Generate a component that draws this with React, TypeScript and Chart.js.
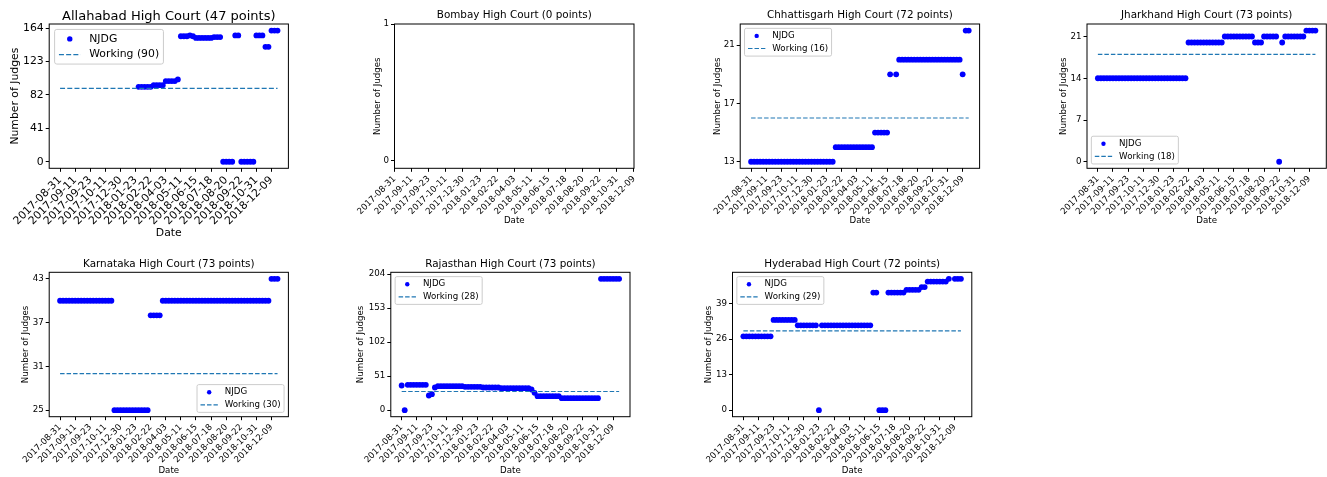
import React, { useEffect, useRef } from "react";
import { Chart, registerables } from "chart.js";

Chart.register(...registerables);

const FIG_W = 1327;
const FIG_H = 477;
const FONT = '"DejaVu Sans", "Liberation Sans", sans-serif';

// ---------------- data ----------------
const dateTickLabels = [
  "2017-08-31", "2017-09-11", "2017-09-23", "2017-10-11", "2017-12-30",
  "2018-01-23", "2018-02-22", "2018-04-03", "2018-05-11", "2018-06-15",
  "2018-07-18", "2018-08-20", "2018-09-22", "2018-10-31", "2018-12-09",
];
const dateTickPositions = [0, 5, 10, 15, 20, 25, 30, 35, 40, 45, 50, 55, 60, 65, 70];
const lastDateIndex = 72;

const allahabadJudges: (number | null)[] = [
  null, null, null, null, null, null, null, null, null, null,
  null, null, null, null, null, null, null, null, null, null,
  null, null, null, null, null, null, 92, 92, 92, 92,
  92, 94, 94, 94, 94, 99, 99, 99, 99, 101,
  154, 154, 154, 155, 154, 152, 152, 152, 152, 152,
  152, 153, 153, 153, 0, 0, 0, 0, 155, 155,
  0, 0, 0, 0, 0, 155, 155, 155, 141, 141,
  161, 161, 161,
];
const bombayJudges: (number | null)[] = [];
const chhattisgarhJudges: (number | null)[] = [
  13, 13, 13, 13, 13, 13, 13, 13, 13, 13,
  13, 13, 13, 13, 13, 13, 13, 13, 13, 13,
  13, 13, 13, 13, 13, 13, 13, 13, 14, 14,
  14, 14, 14, 14, 14, 14, 14, 14, 14, 14,
  14, 15, 15, 15, 15, 15, 19, null, 19, 20,
  20, 20, 20, 20, 20, 20, 20, 20, 20, 20,
  20, 20, 20, 20, 20, 20, 20, 20, 20, 20,
  19, 22, 22,
];
const jharkhandJudges: (number | null)[] = [
  14, 14, 14, 14, 14, 14, 14, 14, 14, 14,
  14, 14, 14, 14, 14, 14, 14, 14, 14, 14,
  14, 14, 14, 14, 14, 14, 14, 14, 14, 14,
  20, 20, 20, 20, 20, 20, 20, 20, 20, 20,
  20, 20, 21, 21, 21, 21, 21, 21, 21, 21,
  21, 21, 20, 20, 20, 21, 21, 21, 21, 21,
  0, 20, 21, 21, 21, 21, 21, 21, 21, 22,
  22, 22, 22,
];
const karnatakaJudges: (number | null)[] = [
  40, 40, 40, 40, 40, 40, 40, 40, 40, 40,
  40, 40, 40, 40, 40, 40, 40, 40, 25, 25,
  25, 25, 25, 25, 25, 25, 25, 25, 25, 25,
  38, 38, 38, 38, 40, 40, 40, 40, 40, 40,
  40, 40, 40, 40, 40, 40, 40, 40, 40, 40,
  40, 40, 40, 40, 40, 40, 40, 40, 40, 40,
  40, 40, 40, 40, 40, 40, 40, 40, 40, 40,
  43, 43, 43,
];
const rajasthanJudges: (number | null)[] = [
  37, 0, 38, 38, 38, 38, 38, 38, 38, 22,
  24, 34, 36, 36, 36, 36, 36, 36, 36, 36,
  36, 35, 35, 35, 35, 35, 35, 34, 34, 34,
  34, 34, 34, 33, 33, 33, 33, 33, 33, 33,
  33, 33, 33, 31, 26, 21, 21, 21, 21, 21,
  21, 21, 21, 18, 18, 18, 18, 18, 18, 18,
  18, 18, 18, 18, 18, 18, 197, 197, 197, 197,
  197, 197, 197,
];
const hyderabadJudges: (number | null)[] = [
  27, 27, 27, 27, 27, 27, 27, 27, 27, 27,
  33, 33, 33, 33, 33, 33, 33, 33, 31, 31,
  31, 31, 31, 31, 31, 0, 31, 31, 31, 31,
  31, 31, 31, 31, 31, 31, 31, 31, 31, 31,
  31, 31, 31, 43, 43, 0, 0, 0, 43, 43,
  43, 43, 43, 43, 44, 44, 44, 44, 44, 45,
  45, 47, 47, 47, 47, 47, 47, 47, 48, null,
  48, 48, 48,
];

const allahabadWorking = 90;
const chhattisgarhWorking = 16;
const jharkhandWorking = 18;
const karnatakaWorking = 30;
const rajasthanWorking = 28;
const hyderabadWorking = 29;

const allahabadYTicks = [0, 41, 82, 123, 164];
const bombayYTicks = [0, 1];
const chhattisgarhYTicks = [13, 17, 21];
const jharkhandYTicks = [0, 7, 14, 21];
const karnatakaYTicks = [25, 31, 37, 43];
const rajasthanYTicks = [0, 51, 102, 153, 204];
const hyderabadYTicks = [0, 13, 26, 39];

// ---------------- layout / style ----------------
type Panel = {
  title: string;
  values: (number | null)[];
  working: number | null;
  yTicks: number[];
  yMin: number;
  yMax: number;
  xMin: number;
  xMax: number;
  L: number; T: number; R: number; B: number;
  big: boolean;
  legend: "ul" | "ll" | "lr" | null;
  titleY: number;
  yTitleX: number;
  dateY: number;
};

const ROW1 = { T: 24, B: 168.3, titleY: 15.7, dateY: 221 };
const ROW2 = { T: 272.3, B: 416.7, titleY: 264.7, dateY: 470.3 };

const PANELS: Panel[] = [
  {
    title: "Allahabad High Court (47 points)", values: allahabadJudges, working: allahabadWorking,
    yTicks: allahabadYTicks, yMin: -8.05, yMax: 169.05, xMin: -3.6, xMax: 75.6,
    L: 49.2, T: ROW1.T, R: 288.4, B: ROW1.B, big: true, legend: "ul",
    titleY: 16.2, yTitleX: 14.8, dateY: 233.6,
  },
  {
    title: "Bombay High Court (0 points)", values: bombayJudges, working: null,
    yTicks: bombayYTicks, yMin: -0.055, yMax: 1, xMin: 0, xMax: 70.001,
    L: 394.5, T: ROW1.T, R: 634, B: ROW1.B, big: false, legend: null,
    titleY: ROW1.titleY, yTitleX: 377.6, dateY: ROW1.dateY,
  },
  {
    title: "Chhattisgarh High Court (72 points)", values: chhattisgarhJudges, working: chhattisgarhWorking,
    yTicks: chhattisgarhYTicks, yMin: 12.55, yMax: 22.45, xMin: -3.6, xMax: 75.6,
    L: 740.2, T: ROW1.T, R: 979.6, B: ROW1.B, big: false, legend: "ul",
    titleY: ROW1.titleY, yTitleX: 718, dateY: ROW1.dateY,
  },
  {
    title: "Jharkhand High Court (73 points)", values: jharkhandJudges, working: jharkhandWorking,
    yTicks: jharkhandYTicks, yMin: -1.1, yMax: 23.1, xMin: -3.6, xMax: 75.6,
    L: 1087, T: ROW1.T, R: 1326.3, B: ROW1.B, big: false, legend: "ll",
    titleY: ROW1.titleY, yTitleX: 1063.6, dateY: ROW1.dateY,
  },
  {
    title: "Karnataka High Court (73 points)", values: karnatakaJudges, working: karnatakaWorking,
    yTicks: karnatakaYTicks, yMin: 24.1, yMax: 43.9, xMin: -3.6, xMax: 75.6,
    L: 49.2, T: ROW2.T, R: 288.4, B: ROW2.B, big: false, legend: "lr",
    titleY: ROW2.titleY, yTitleX: 25.3, dateY: ROW2.dateY,
  },
  {
    title: "Rajasthan High Court (73 points)", values: rajasthanJudges, working: rajasthanWorking,
    yTicks: rajasthanYTicks, yMin: -9.85, yMax: 206.85, xMin: -3.6, xMax: 75.6,
    L: 390.8, T: ROW2.T, R: 630, B: ROW2.B, big: false, legend: "ul",
    titleY: ROW2.titleY, yTitleX: 361, dateY: ROW2.dateY,
  },
  {
    title: "Hyderabad High Court (72 points)", values: hyderabadJudges, working: hyderabadWorking,
    yTicks: hyderabadYTicks, yMin: -2.4, yMax: 50.4, xMin: -3.6, xMax: 75.6,
    L: 732.5, T: ROW2.T, R: 971.8, B: ROW2.B, big: false, legend: "ul",
    titleY: ROW2.titleY, yTitleX: 708.6, dateY: ROW2.dateY,
  },
];

const MARKER_COLOR = "#0000ff";
const WORKING_COLOR = "#1f77b4";

// spines drawn around the plot area
const framePlugin = {
  id: "mplFrame",
  afterDatasetsDraw(chart: any) {
    const { ctx, chartArea: a } = chart;
    ctx.save();
    ctx.strokeStyle = "#000";
    ctx.lineWidth = 1;
    ctx.strokeRect(a.left, a.top, a.right - a.left, a.bottom - a.top);
    ctx.restore();
  },
};

// matplotlib-like legend inside the axes
const legendPlugin = {
  id: "mplLegend",
  afterDraw(chart: any, _args: any, opts: any) {
    if (!opts || !opts.corner) return;
    const { ctx, chartArea: a } = chart;
    const f: number = opts.fontSize;
    const items = chart.data.datasets;
    if (!items.length) return;
    ctx.save();
    ctx.font = `${f}px ${FONT}`;
    let textW = 0;
    items.forEach((d: any) => { textW = Math.max(textW, ctx.measureText(d.label).width); });
    const w = 3.6 * f + textW;
    const h = 0.8 * f + items.length * 0.95 * f + (items.length - 1) * 0.5 * f;
    const pad = 0.5 * f;
    const x0 = opts.corner[1] === "l" ? a.left + pad : a.right - pad - w;
    const y0 = opts.corner[0] === "u" ? a.top + pad : a.bottom - pad - h;
    const r = 0.2 * f;
    ctx.beginPath();
    ctx.moveTo(x0 + r, y0);
    ctx.lineTo(x0 + w - r, y0);
    ctx.arcTo(x0 + w, y0, x0 + w, y0 + r, r);
    ctx.lineTo(x0 + w, y0 + h - r);
    ctx.arcTo(x0 + w, y0 + h, x0 + w - r, y0 + h, r);
    ctx.lineTo(x0 + r, y0 + h);
    ctx.arcTo(x0, y0 + h, x0, y0 + h - r, r);
    ctx.lineTo(x0, y0 + r);
    ctx.arcTo(x0, y0, x0 + r, y0, r);
    ctx.closePath();
    ctx.fillStyle = "rgba(255,255,255,0.8)";
    ctx.fill();
    ctx.strokeStyle = "#cccccc";
    ctx.lineWidth = 1;
    ctx.stroke();
    items.forEach((d: any, i: number) => {
      const cy = y0 + 0.4 * f + 0.475 * f + i * 1.45 * f;
      if (d.showLine) {
        ctx.beginPath();
        ctx.setLineDash(d.borderDash || []);
        ctx.strokeStyle = d.borderColor;
        ctx.lineWidth = d.borderWidth;
        ctx.moveTo(x0 + 0.4 * f, cy);
        ctx.lineTo(x0 + 2.4 * f, cy);
        ctx.stroke();
        ctx.setLineDash([]);
      } else {
        ctx.beginPath();
        ctx.fillStyle = d.pointBackgroundColor;
        ctx.arc(x0 + 1.4 * f, cy, opts.markerR, 0, Math.PI * 2);
        ctx.fill();
      }
      ctx.fillStyle = "#000";
      ctx.textAlign = "left";
      ctx.textBaseline = "middle";
      ctx.fillText(d.label, x0 + 3.2 * f, cy);
    });
    ctx.restore();
  },
};

function makeChart(canvas: HTMLCanvasElement, p: Panel) {
  const f = p.big ? 10.83 : 8.67;
  const ft = p.big ? 13 : 10.4;
  const xAxisH = p.dateY + 0.6 * f - p.B;
  const points: { x: number; y: number }[] = [];
  p.values.forEach((v, i) => { if (v !== null) points.push({ x: i, y: v }); });
  const datasets: any[] = [];
  if (points.length) {
    datasets.push({
      label: "NJDG", data: points, showLine: false,
      pointRadius: 2.9, pointHoverRadius: 2.9, pointBackgroundColor: MARKER_COLOR,
      pointBorderWidth: 0, borderColor: MARKER_COLOR, order: 2,
    });
  }
  if (p.working !== null) {
    datasets.push({
      label: `Working (${p.working})`,
      data: [{ x: 0, y: p.working }, { x: lastDateIndex, y: p.working }],
      showLine: true, borderColor: WORKING_COLOR, borderWidth: 1.2,
      borderDash: p.big ? [5, 2.2] : [4.5, 2], pointRadius: 0, order: 1,
    });
  }
  const tickFont = { family: FONT, size: f };
  const grid = { drawOnChartArea: false, drawTicks: true, tickLength: 3.5, color: "#000", lineWidth: 1 };
  const labelFor = (v: number, i: number) => {
    let k = -1;
    dateTickPositions.forEach((pos, j) => { if (Math.abs(pos - v) < 0.01) k = j; });
    return k >= 0 ? dateTickLabels[k] : dateTickLabels[i];
  };
  return new Chart(canvas, {
    type: "scatter",
    data: { datasets },
    plugins: [framePlugin, legendPlugin],
    options: {
      animation: false,
      responsive: false,
      devicePixelRatio: 1,
      events: [],
      layout: {
        autoPadding: false,
        padding: { left: 0, top: 0, right: FIG_W - p.R, bottom: FIG_H - p.B - xAxisH },
      },
      plugins: {
        legend: { display: false },
        tooltip: { enabled: false },
        title: {
          display: true, text: p.title, fullSize: false, color: "#000",
          font: { family: FONT, size: ft, weight: "normal" },
          padding: { top: p.titleY - 0.6 * ft, bottom: p.T - p.titleY - 0.6 * ft },
        },
        mplLegend: p.legend ? { corner: p.legend, fontSize: f, markerR: p.big ? 2.7 : 2.2 } : { corner: null },
      } as any,
      scales: {
        x: {
          type: "linear", min: p.xMin, max: p.xMax,
          afterBuildTicks: (ax: any) => { ax.ticks = dateTickPositions.map((v) => ({ value: v })); },
          afterFit: (ax: any) => { ax.height = xAxisH; },
          ticks: {
            autoSkip: false, maxRotation: 45, minRotation: 45, color: "#000", font: tickFont, padding: 2,
            callback: (v: any, i: number) => labelFor(Number(v), i),
          },
          grid, border: { display: false },
          title: { display: true, text: "Date", color: "#000", font: tickFont, padding: { top: 0, bottom: 0 } },
        },
        y: {
          type: "linear", min: p.yMin, max: p.yMax,
          afterBuildTicks: (ax: any) => { ax.ticks = p.yTicks.map((v) => ({ value: v })); },
          afterFit: (ax: any) => { ax.width = p.L; },
          ticks: { color: "#000", font: tickFont, padding: 2, callback: (v: any) => String(v) },
          grid, border: { display: false },
          title: {
            display: true, text: "Number of Judges", color: "#000", font: tickFont,
            padding: { top: p.yTitleX - 0.6 * f, bottom: 0 },
          },
        },
      } as any,
    },
  });
}

export default function App() {
  const refs = useRef<(HTMLCanvasElement | null)[]>([]);
  useEffect(() => {
    const charts = PANELS.map((p, i) => makeChart(refs.current[i] as HTMLCanvasElement, p));
    return () => charts.forEach((c) => c.destroy());
  }, []);
  return (
    <div style={{ position: "fixed", left: 0, top: 0, width: FIG_W, height: FIG_H, background: "#fff", overflow: "hidden" }}>
      {PANELS.map((p, i) => (
        <canvas
          key={i}
          ref={(el) => { refs.current[i] = el; }}
          width={FIG_W}
          height={FIG_H}
          style={{ position: "absolute", left: 0, top: 0, width: FIG_W, height: FIG_H }}
        />
      ))}
    </div>
  );
}
